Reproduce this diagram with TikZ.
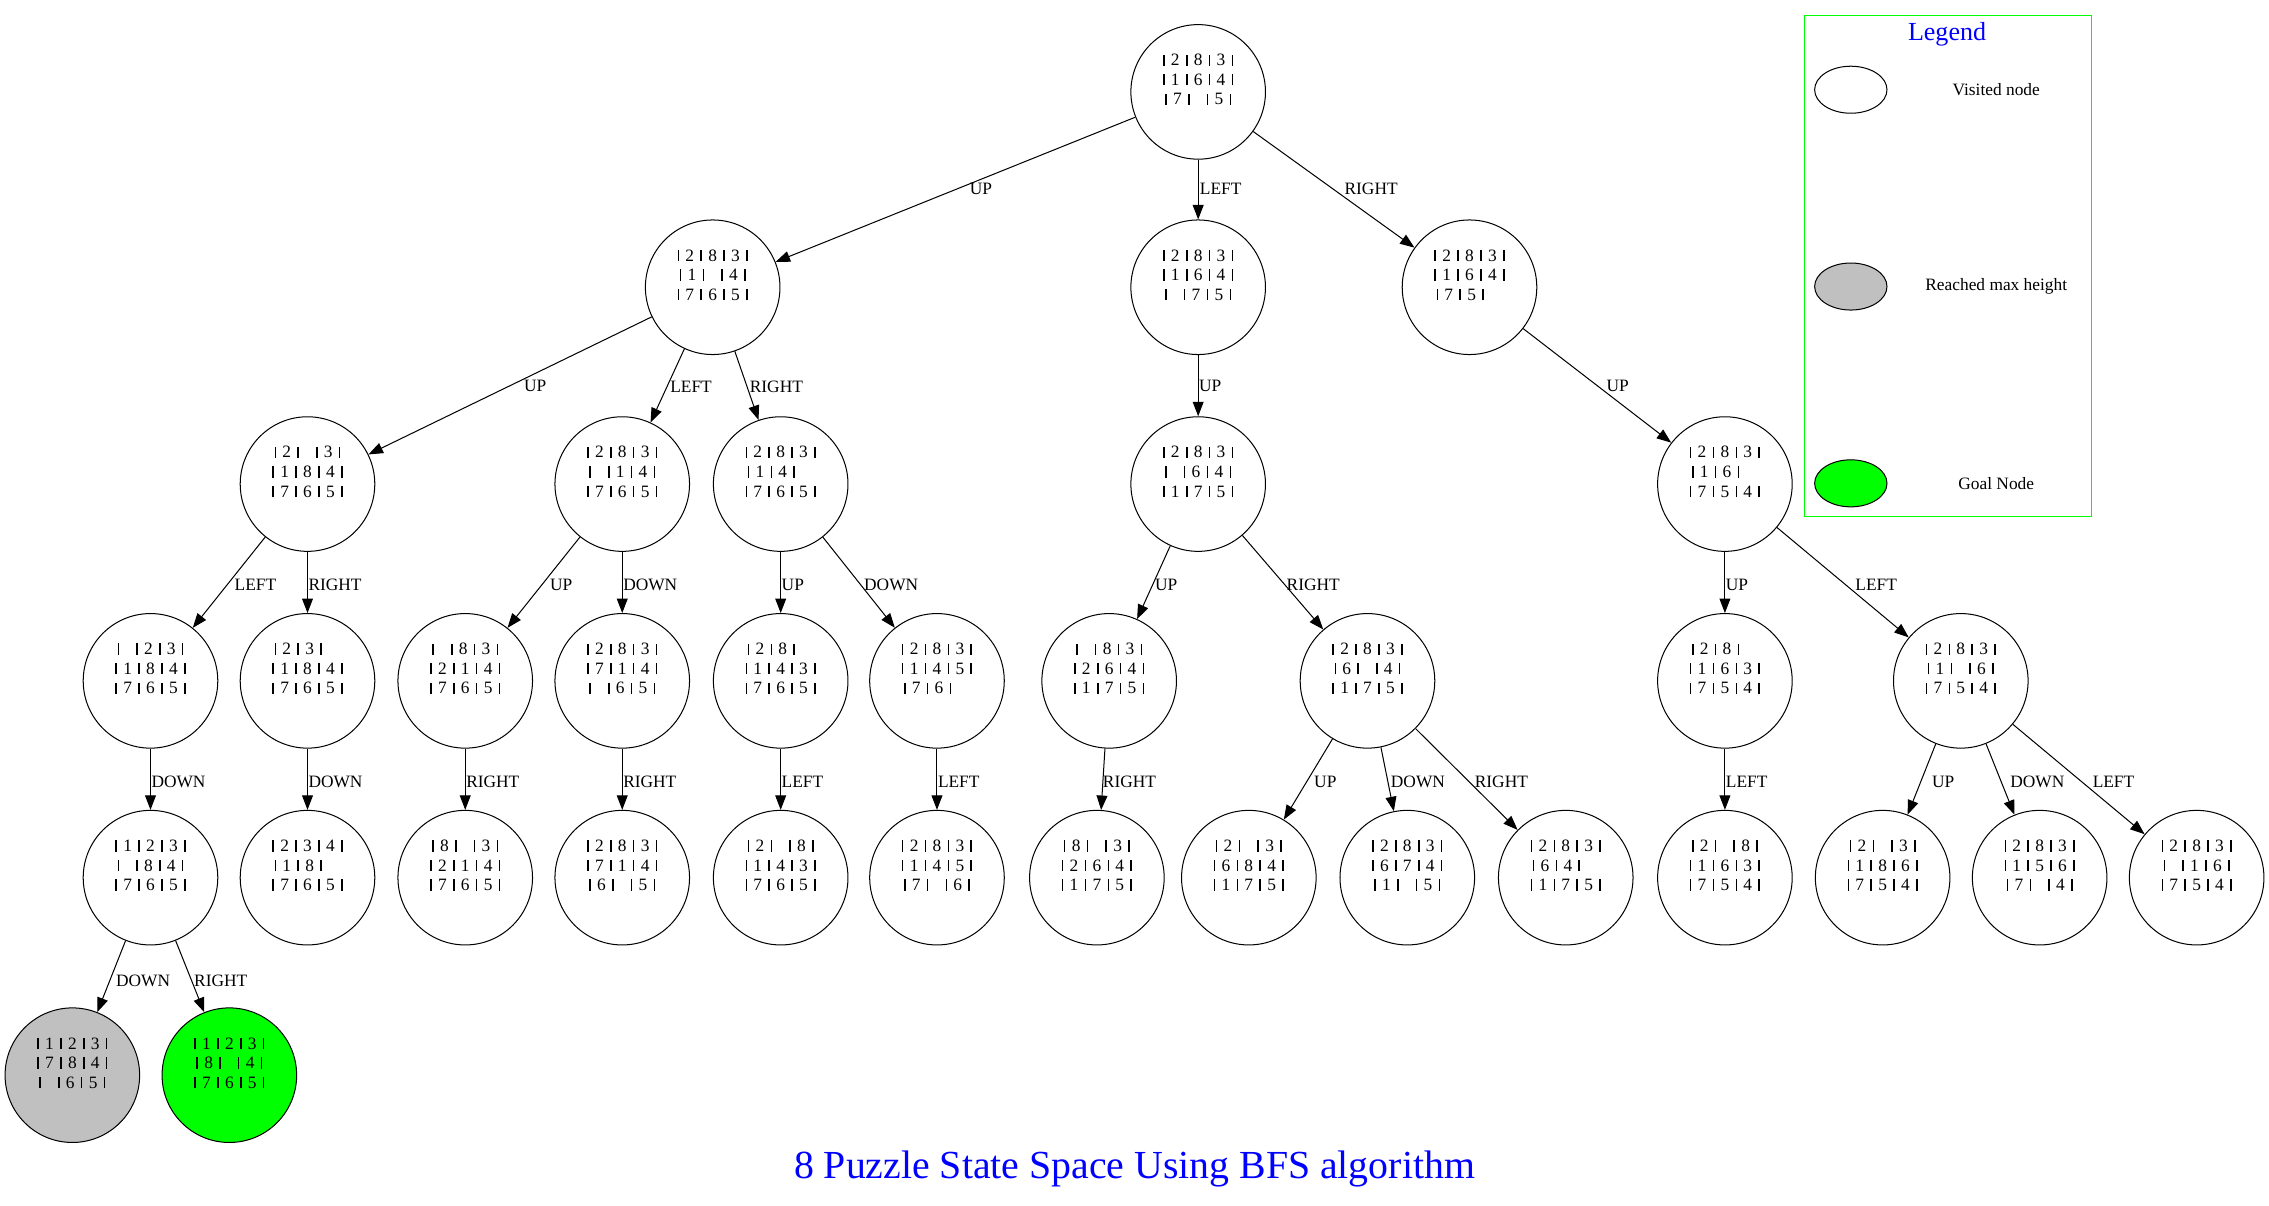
\documentclass[tikz,border=0pt]{standalone}
\usepackage{fontspec}
\setmainfont{Liberation Serif}
\usetikzlibrary{arrows.meta,shapes.geometric}
\definecolor{gvgreen}{RGB}{0,255,0}
\definecolor{gvgray}{RGB}{192,192,192}
\definecolor{gvblue}{RGB}{0,0,255}
\newcommand\pp{\rule{0.65pt}{0pt}\rule{1.1pt}{7.8pt}\rule{0.65pt}{0pt}}
\newcommand\cel[1]{\if\relax\detokenize{#1}\relax\rule{10.5pt}{0pt}\else\rule{3.7pt}{0pt}#1\rule{3.7pt}{0pt}\fi}
\newcommand\rw[3]{\pp\cel{#1}\pp\cel{#2}\pp\if\relax\detokenize{#3}\relax\rule{12.9pt}{0pt}\else\cel{#3}\pp\fi}
\newcommand\pz[9]{\rw{#1}{#2}{#3}\\\rw{#4}{#5}{#6}\\\rw{#7}{#8}{#9}\\[3.5pt]\mbox{}}
\tikzset{
  st/.style={circle,draw,line width=0.7pt,minimum size=93pt,inner sep=0pt,align=center,font=\fontsize{12}{13.5}\selectfont},
  edge/.style={line width=0.7pt,-{Triangle[length=10pt,width=7.5pt]}},
  elab/.style={anchor=west,inner sep=0pt,font=\fontsize{12}{14}\selectfont},
  legell/.style={ellipse,draw,line width=0.7pt,minimum width=50pt,minimum height=32.5pt,inner sep=0pt},
  legtxt/.style={inner sep=0pt,font=\fontsize{12}{14}\selectfont}
}
\begin{document}
\begin{tikzpicture}[x=1pt,y=-1pt]
\useasboundingbox (0,0) rectangle (1568,833.4);
% row 0
\node[st] (r) at (828,63.5) {\pz{2}{8}{3}{1}{6}{4}{7}{}{5}};
% row 1
\node[st] (a) at (492.5,198.5) {\pz{2}{8}{3}{1}{}{4}{7}{6}{5}};
\node[st] (b) at (828,198.5) {\pz{2}{8}{3}{1}{6}{4}{}{7}{5}};
\node[st] (c) at (1015.5,198.5) {\pz{2}{8}{3}{1}{6}{4}{7}{5}{}};
% row 2
\node[st] (a1) at (212.5,334.5) {\pz{2}{}{3}{1}{8}{4}{7}{6}{5}};
\node[st] (a2) at (430,334.5) {\pz{2}{8}{3}{}{1}{4}{7}{6}{5}};
\node[st] (a3) at (539.5,334.5) {\pz{2}{8}{3}{1}{4}{}{7}{6}{5}};
\node[st] (b1) at (828,334.5) {\pz{2}{8}{3}{}{6}{4}{1}{7}{5}};
\node[st] (c1) at (1192,334.5) {\pz{2}{8}{3}{1}{6}{}{7}{5}{4}};
% row 3
\node[st] (a1a) at (104,470.5) {\pz{}{2}{3}{1}{8}{4}{7}{6}{5}};
\node[st] (a1b) at (212.5,470.5) {\pz{2}{3}{}{1}{8}{4}{7}{6}{5}};
\node[st] (a2a) at (321.5,470.5) {\pz{}{8}{3}{2}{1}{4}{7}{6}{5}};
\node[st] (a2b) at (430,470.5) {\pz{2}{8}{3}{7}{1}{4}{}{6}{5}};
\node[st] (a3a) at (539.5,470.5) {\pz{2}{8}{}{1}{4}{3}{7}{6}{5}};
\node[st] (a3b) at (647.5,470.5) {\pz{2}{8}{3}{1}{4}{5}{7}{6}{}};
\node[st] (b1a) at (766.5,470.5) {\pz{}{8}{3}{2}{6}{4}{1}{7}{5}};
\node[st] (b1b) at (945,470.5) {\pz{2}{8}{3}{6}{}{4}{1}{7}{5}};
\node[st] (c1a) at (1192,470.5) {\pz{2}{8}{}{1}{6}{3}{7}{5}{4}};
\node[st] (c1b) at (1355,470.5) {\pz{2}{8}{3}{1}{}{6}{7}{5}{4}};
% row 4
\node[st] (a1a1) at (104,606.5) {\pz{1}{2}{3}{}{8}{4}{7}{6}{5}};
\node[st] (a1b1) at (212.5,606.5) {\pz{2}{3}{4}{1}{8}{}{7}{6}{5}};
\node[st] (a2a1) at (321.5,606.5) {\pz{8}{}{3}{2}{1}{4}{7}{6}{5}};
\node[st] (a2b1) at (430,606.5) {\pz{2}{8}{3}{7}{1}{4}{6}{}{5}};
\node[st] (a3a1) at (539.5,606.5) {\pz{2}{}{8}{1}{4}{3}{7}{6}{5}};
\node[st] (a3b1) at (647.5,606.5) {\pz{2}{8}{3}{1}{4}{5}{7}{}{6}};
\node[st] (b1a1) at (758,606.5) {\pz{8}{}{3}{2}{6}{4}{1}{7}{5}};
\node[st] (b1b1) at (863,606.5) {\pz{2}{}{3}{6}{8}{4}{1}{7}{5}};
\node[st] (b1b2) at (972.5,606.5) {\pz{2}{8}{3}{6}{7}{4}{1}{}{5}};
\node[st] (b1b3) at (1082,606.5) {\pz{2}{8}{3}{6}{4}{}{1}{7}{5}};
\node[st] (c1a1) at (1192,606.5) {\pz{2}{}{8}{1}{6}{3}{7}{5}{4}};
\node[st] (c1b1) at (1301,606.5) {\pz{2}{}{3}{1}{8}{6}{7}{5}{4}};
\node[st] (c1b2) at (1409.5,606.5) {\pz{2}{8}{3}{1}{5}{6}{7}{}{4}};
\node[st] (c1b3) at (1518,606.5) {\pz{2}{8}{3}{}{1}{6}{7}{5}{4}};
% row 5
\node[st,fill=gvgray] (g1) at (50,743) {\pz{1}{2}{3}{7}{8}{4}{}{6}{5}};
\node[st,fill=gvgreen] (g2) at (158.5,743) {\pz{1}{2}{3}{8}{}{4}{7}{6}{5}};
% edges
\draw[edge] (r) -- (a);   \node[elab] (l1) at (670,130.5) {UP};
\draw[edge] (r) -- (b);   \node[elab] (l2) at (829,130.5) {LEFT};
\draw[edge] (r) -- (c);   \node[elab] (l3) at (929,130.5) {RIGHT};
\draw[edge] (a) -- (a1);  \node[elab] (l4) at (362,267) {UP};
\draw[edge] (a) -- (a2);  \node[elab] (l5) at (463,267) {LEFT};
\draw[edge] (a) -- (a3);  \node[elab] (l6) at (518,267) {RIGHT};
\draw[edge] (b) -- (b1);  \node[elab] (l7) at (828.5,267) {UP};
\draw[edge] (c) -- (c1);  \node[elab] (l8) at (1110,267) {UP};
\draw[edge] (a1) -- (a1a); \node[elab] (l9) at (162,404) {LEFT};
\draw[edge] (a1) -- (a1b); \node[elab] (l10) at (213,404) {RIGHT};
\draw[edge] (a2) -- (a2a); \node[elab] (l11) at (380,404) {UP};
\draw[edge] (a2) -- (a2b); \node[elab] (l12) at (430.5,404) {DOWN};
\draw[edge] (a3) -- (a3a); \node[elab] (l13) at (540,404) {UP};
\draw[edge] (a3) -- (a3b); \node[elab] (l14) at (597,404) {DOWN};
\draw[edge] (b1) -- (b1a); \node[elab] (l15) at (798,404) {UP};
\draw[edge] (b1) -- (b1b); \node[elab] (l16) at (889,404) {RIGHT};
\draw[edge] (c1) -- (c1a); \node[elab] (l17) at (1192.5,404) {UP};
\draw[edge] (c1) -- (c1b); \node[elab] (l18) at (1282,404) {LEFT};
\draw[edge] (a1a) -- (a1a1); \node[elab] (l19) at (104.5,540.5) {DOWN};
\draw[edge] (a1b) -- (a1b1); \node[elab] (l20) at (213,540.5) {DOWN};
\draw[edge] (a2a) -- (a2a1); \node[elab] (l21) at (322,540.5) {RIGHT};
\draw[edge] (a2b) -- (a2b1); \node[elab] (l22) at (430.5,540.5) {RIGHT};
\draw[edge] (a3a) -- (a3a1); \node[elab] (l23) at (540,540.5) {LEFT};
\draw[edge] (a3b) -- (a3b1); \node[elab] (l24) at (648,540.5) {LEFT};
\draw[edge] (b1a) -- (b1a1); \node[elab] (l25) at (762,540.5) {RIGHT};
\draw[edge] (b1b) -- (b1b1); \node[elab] (l26) at (908,540.5) {UP};
\draw[edge] (b1b) -- (b1b2); \node[elab] (l27) at (961,540.5) {DOWN};
\draw[edge] (b1b) -- (b1b3); \node[elab] (l28) at (1019,540.5) {RIGHT};
\draw[edge] (c1a) -- (c1a1); \node[elab] (l29) at (1192.5,540.5) {LEFT};
\draw[edge] (c1b) -- (c1b1); \node[elab] (l30) at (1335,540.5) {UP};
\draw[edge] (c1b) -- (c1b2); \node[elab] (l31) at (1389,540.5) {DOWN};
\draw[edge] (c1b) -- (c1b3); \node[elab] (l32) at (1446,540.5) {LEFT};
\draw[edge] (a1a1) -- (g1); \node[elab] (l33) at (80,678) {DOWN};
\draw[edge] (a1a1) -- (g2); \node[elab] (l34) at (134,678) {RIGHT};
% legend
\node[draw=gvgreen,line width=0.7pt,minimum width=198pt,minimum height=346pt,inner sep=0pt] (legend) at (1346,184) {};
\node[text=gvblue,inner sep=0pt,font=\fontsize{18}{20}\selectfont] (legtitle) at (1345.5,23.5) {Legend};
\node[legell] (lv) at (1279,62) {};
\node[legell,fill=gvgray] (lm) at (1279,198) {};
\node[legell,fill=gvgreen] (lg) at (1279,334) {};
\node[legtxt] (tv) at (1379.5,62) {Visited node};
\node[legtxt] (tm) at (1379.5,198) {Reached max height};
\node[legtxt] (tg) at (1379.5,334) {Goal Node};
% title
\node[text=gvblue,inner sep=0pt,font=\fontsize{27.5}{33}\selectfont] (title) at (784,808) {8 Puzzle State Space Using BFS algorithm};
\end{tikzpicture}
\end{document}
